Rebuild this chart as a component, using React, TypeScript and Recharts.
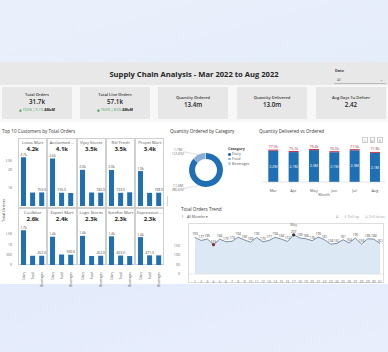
import React from 'react';
import {
    BarChart,
    Bar,
    XAxis,
    YAxis,
    PieChart,
    Pie,
    Cell,
    AreaChart,
    Area,
    LabelList
} from 'recharts';

const FONT = '"Open Sans", "Noto Sans", "DejaVu Sans", sans-serif';
const BLUE = '#1f6fb4';

// KPI cards
const kpiTitles = ['Total Orders', 'Total Line Orders', 'Quantity Ordered', 'Quantity Delivered', 'Avg Days To Deliver'];
const kpiValues = ['31.7k', '57.1k', '13.4m', '13.0m', '2.42'];
const kpiMoM = ['19.0% | 5.1%', '19.0% | 8.5%', '', '', ''];

// Top 10 customers (small multiples)
const customers = ['Lotus Mart', 'Acclaimed ...', 'Vijay Stores', 'Rel Fresh', 'Propel Mart', 'Coolblue', 'Expert Mart', 'Logic Stores', 'Surefist Mart', 'Expression ...'];
const customerTotals = ['4.2k', '4.1k', '3.5k', '3.5k', '3.4k', '2.6k', '2.4k', '2.3k', '2.3k', '2.3k'];
const categories = ['Dairy', 'Food', 'Beverages'];
const dairyOrders = [2710, 2640, 2010, 2000, 1940, 1700, 1380, 1420, 1400, 1360];
const foodOrders = [745, 735, 750, 733, 730, 450, 510, 440, 463, 471];
const beverageOrders = [753, 720, 740, 760, 738, 452, 500, 452, 437, 469];
// which small bar carries a data label (1 = Food, 2 = Beverages)
const smallLabelOn = [2, 1, 2, 1, 2, 2, 2, 2, 1, 1];
const row1Ticks = [0, 500, 1000, 1500, 2000, 2500];
const row2Ticks = [0, 500, 1000, 1500];

// Quantity ordered by category (millions)
const qtyCategories = ['Dairy', 'Food', 'Beverages'];
const qtyOrdered = [11.6, 1.69, 0.11];
const qtyColors = ['#1f6fb4', '#8aaed8', '#bcd0ea'];

// Quantity delivered vs ordered
const months = ['Mar', 'Apr', 'May', 'Jun', 'Jul', 'Aug'];
const deliveredM = [2.23, 2.13, 2.27, 2.12, 2.26, 2.07];
const shortfallK = [77.0, 75.1, 79.4, 76.3, 77.5, 71.8];

// Total orders trend
const days = ['1', '2', '3', '4', '5', '6', '7', '8', '9', '10', '11', '12', '13', '14', '15', '16', '17', '18', '19', '20', '21', '22', '23', '24', '25', '26', '27', '28', '29', '30', '31'];
const dailyOrders = [193, 177, 185, 155, 184, 170, 173, 194, 180, 168, 193, 170, 177, 194, 184, 172, 207, 190, 186, 176, 195, 181, 158, 161, 181, 164, 190, 158, 186, 184, 161];
const trendTicks = [0, 50, 100, 150];

const fmtSmall = (v: number) => (v >= 1000 ? (v / 1000).toFixed(1) + 'k' : v.toFixed(1));
const fmtTick = (v: number) => (v === 0 ? '0' : v < 1000 ? String(v) : v / 1000 + 'K');

const txt = (x: number, y: number, size: number, extra?: React.CSSProperties): React.CSSProperties => ({
    position: 'absolute',
    left: x,
    top: y - size * 0.6,
    fontSize: size,
    lineHeight: 1.2,
    whiteSpace: 'nowrap',
    ...extra
});

const PANEL_W = 29.3;
const PANEL_X0 = 18;

const CustomerPanel = ({ idx }: { idx: number }) => {
    const row = idx < 5 ? 0 : 1;
    const col = idx % 5;
    const x0 = PANEL_X0 + col * PANEL_W;
    const top = row === 0 ? 138 : 208;
    const h = row === 0 ? 70 : 57;
    const values = [dairyOrders[idx], foodOrders[idx], beverageOrders[idx]];
    const data = categories.map((c, k) => ({ category: c, orders: values[k] }));
    const yW = col === 0 ? 12 : 0;

    const renderLabel = (p: any) => {
        const { x, y, width, value, index } = p;
        if (index !== 0 && index !== smallLabelOn[idx]) return null;
        return (
            <text x={x + width / 2} y={y - 1.5} textAnchor="middle" fontSize={3.4} fill="#444">
                {fmtSmall(value)}
            </text>
        );
    };

    const renderXTick = (p: any) => {
        const { x, y, payload } = p;
        return (
            <text x={x} y={y} transform={`rotate(-90, ${x}, ${y})`} textAnchor="end" dominantBaseline="central" fontSize={3.1} fill="#555">
                {payload.value}
            </text>
        );
    };

    return (
        <>
            <div style={{ position: 'absolute', left: x0, top, width: PANEL_W, height: h, border: '0.5px solid #cfcfcf', boxSizing: 'border-box' }} />
            <div style={txt(x0 + PANEL_W / 2, top + 4.5, 4.2, { transform: 'translateX(-50%)', color: '#555' })}>{customers[idx]}</div>
            <div style={txt(x0 + PANEL_W / 2, top + 11.5, 6, { transform: 'translateX(-50%)', color: '#222', fontWeight: 700 })}>{customerTotals[idx]}</div>
            <div style={{ position: 'absolute', left: x0 - yW, top: row === 0 ? 146 : 218 }}>
                <BarChart
                    width={PANEL_W + yW}
                    height={row === 0 ? 60 : 70}
                    data={data}
                    margin={{ top: 6, right: 1, left: 1, bottom: 0 }}
                    barCategoryGap="22%"
                >
                    {row === 0 ? (
                        <XAxis dataKey="category" hide />
                    ) : (
                        <XAxis dataKey="category" height={23} axisLine={false} tickLine={false} interval={0} tick={renderXTick} tickMargin={1} />
                    )}
                    <YAxis
                        hide={col !== 0}
                        width={yW}
                        domain={row === 0 ? [0, 3000] : [0, 2000]}
                        ticks={row === 0 ? row1Ticks : row2Ticks}
                        tickFormatter={fmtTick}
                        axisLine={false}
                        tickLine={false}
                        tick={{ fontSize: 3.4, fill: '#666' }}
                        tickMargin={1}
                    />
                    <Bar dataKey="orders" fill={BLUE} isAnimationActive={false}>
                        <LabelList dataKey="orders" content={renderLabel} />
                    </Bar>
                </BarChart>
            </div>
        </>
    );
};

const RADIAN = Math.PI / 180;

const renderPieLabel = (p: any) => {
    const { cx, cy, midAngle, outerRadius, index, value, percent } = p;
    if (index > 1) return null;
    const sin = Math.sin(-midAngle * RADIAN);
    const cos = Math.cos(-midAngle * RADIAN);
    const ex = cx - outerRadius * Math.abs(cos);
    const ey = cy + outerRadius * sin;
    const lx = cx - outerRadius - 7;
    const ly = cy + (outerRadius + 3) * sin;
    return (
        <g>
            <polyline points={`${ex},${ey} ${lx + 3},${ly} ${lx + 1},${ly}`} fill="none" stroke="#aaa" strokeWidth={0.4} />
            <text x={lx - 4} y={ly - 1.2} textAnchor="middle" fontSize={3.6} fill="#666">{value.toFixed(1) + 'M'}</text>
            <text x={lx - 4} y={ly + 3} textAnchor="middle" fontSize={3.6} fill="#666">{`(${(percent * 100).toFixed(1)}%)`}</text>
        </g>
    );
};

export default function App() {
    const pieData = qtyCategories.map((c, i) => ({ name: c, value: qtyOrdered[i] }));
    const dvoData = months.map((m, i) => ({ month: m, delivered: deliveredM[i], shortfall: shortfallK[i] / 1000, shortfallK: shortfallK[i] }));
    const trendData = days.map((d, i) => ({ day: d, orders: dailyOrders[i] }));
    const maxV = Math.max(...dailyOrders);
    const minV = Math.min(...dailyOrders);

    const renderTrendDot = (p: any) => {
        const { cx, cy, payload, index } = p;
        if (payload.orders === maxV) {
            return (
                <g key={`d${index}`}>
                    <circle cx={cx} cy={cy} r={1.6} fill="#333" />
                    <text x={cx} y={cy - 9} textAnchor="middle" fontSize={3.6} fill="#666">May</text>
                </g>
            );
        }
        if (payload.orders === minV) {
            return <circle key={`d${index}`} cx={cx} cy={cy} r={1.6} fill="#7b2d3d" />;
        }
        return <g key={`d${index}`} />;
    };

    return (
        <div style={{ position: 'fixed', left: 0, top: 0, width: 388, height: 352, overflow: 'hidden', fontFamily: FONT, color: '#333', background: 'linear-gradient(165deg, #eaf0fb 0%, #e3eafa 55%, #e8eefc 100%)' }}>
            {/* dashboard canvas */}
            <div style={{ position: 'absolute', left: 0, top: 62, width: 388, height: 222, background: '#ffffff' }} />
            <div style={{ position: 'absolute', left: 0, top: 62, width: 388, height: 23, background: '#e8e8e8' }} />
            <div style={{ position: 'absolute', left: 0, top: 85, width: 388, height: 37, background: '#f7f7f7' }} />

            <div style={txt(194, 74.5, 7.6, { transform: 'translateX(-50%)', fontWeight: 700, color: '#252525' })}>
                Supply Chain Analysis - Mar 2022 to Aug 2022
            </div>
            <div style={txt(335, 71, 3.8, { fontWeight: 700, color: '#444' })}>Date</div>
            <div style={{ position: 'absolute', left: 334, top: 76, width: 52, height: 7, borderBottom: '0.5px solid #bbb' }} />
            <div style={txt(337, 80, 3.6, { color: '#777' })}>All</div>
            <div style={txt(380, 80, 3.6, { color: '#777' })}>⌄</div>

            {kpiTitles.map((t, i) => {
                const x = [2, 80, 158, 237, 316][i];
                const w = 70;
                const hasMoM = kpiMoM[i] !== '';
                return (
                    <div key={t}>
                        <div style={{ position: 'absolute', left: x, top: 87, width: w, height: 32, background: '#e7e7e7' }} />
                        <div style={txt(x + w / 2, hasMoM ? 95 : 98, 4, { transform: 'translateX(-50%)', color: '#333', fontWeight: 600 })}>{t}</div>
                        <div style={txt(x + w / 2, hasMoM ? 102 : 105, 6.2, { transform: 'translateX(-50%)', color: '#222', fontWeight: 600 })}>{kpiValues[i]}</div>
                        {hasMoM && (
                            <div style={txt(x + w / 2, 110, 3.4, { transform: 'translateX(-50%)', color: '#2e9a4a' })}>
                                ▲ {kpiMoM[i]} <b style={{ color: '#222' }}>ΔMoM</b>
                            </div>
                        )}
                    </div>
                );
            })}

            {/* Top 10 customers */}
            <div style={txt(2, 132, 4.6, { color: '#333' })}>Top 10 Customers by Total Orders</div>
            <div style={txt(4, 210, 4, { color: '#444', transform: 'translate(-50%, 0) rotate(-90deg)', transformOrigin: 'center' })}>Total Orders</div>
            {customers.map((c, i) => (
                <CustomerPanel key={c} idx={i} />
            ))}

            {/* Quantity ordered by category */}
            <div style={txt(170, 132, 4.6, { color: '#333' })}>Quantity Ordered by Category</div>
            <div style={{ position: 'absolute', left: 160, top: 140 }}>
                <PieChart width={70} height={58}>
                    <Pie
                        data={pieData}
                        dataKey="value"
                        nameKey="name"
                        cx={41}
                        cy={25}
                        innerRadius={11}
                        outerRadius={17}
                        startAngle={90}
                        endAngle={-270}
                        stroke="none"
                        label={renderPieLabel}
                        labelLine={false}
                        isAnimationActive={false}
                    >
                        {pieData.map((d, i) => (
                            <Cell key={d.name} fill={qtyColors[i]} />
                        ))}
                    </Pie>
                </PieChart>
            </div>
            <div style={txt(228, 149, 3.8, { fontWeight: 700, color: '#444' })}>Category</div>
            {qtyCategories.map((c, i) => (
                <div key={c} style={txt(228, 154.5 + i * 4.6, 3.6, { color: '#555' })}>
                    <span style={{ display: 'inline-block', width: 2.6, height: 2.6, borderRadius: '50%', background: qtyColors[i], marginRight: 1.5, verticalAlign: 'middle' }} />
                    {c}
                </div>
            ))}
            <div style={{ position: 'absolute', left: 167, top: 196, width: 0.5, height: 10, background: '#d6d6d6' }} />

            {/* Quantity delivered vs ordered */}
            <div style={txt(259, 132, 4.6, { color: '#333' })}>Quantity Delivered vs Ordered</div>
            {['⇩', '⇊', '⇅'].map((g, i) => (
                <div key={g} style={{ position: 'absolute', left: 362 + i * 7.5, top: 137, width: 5.5, height: 5.5, border: '0.4px solid #ccc', fontSize: 3.5, lineHeight: '5.5px', textAlign: 'center', color: '#888', boxSizing: 'border-box' }}>{g}</div>
            ))}
            <div style={{ position: 'absolute', left: 258, top: 143 }}>
                <BarChart width={130} height={54} data={dvoData} margin={{ top: 6, right: 3, left: 5, bottom: 0 }} barCategoryGap="26%">
                    <XAxis
                        dataKey="month"
                        height={15}
                        tickLine={false}
                        axisLine={{ stroke: '#c8c8c8', strokeWidth: 0.5 }}
                        tick={{ fontSize: 3.8, fill: '#555' }}
                        tickMargin={1}
                        label={{ value: 'Month', position: 'insideBottom', offset: 1, fontSize: 3.8, fill: '#555' }}
                    />
                    <YAxis hide domain={[0, 'dataMax']} />
                    <Bar dataKey="delivered" stackId="q" fill={BLUE} isAnimationActive={false}>
                        <LabelList dataKey="delivered" position="center" fontSize={3.6} fill="#ffffff" formatter={(v: any) => Number(v).toFixed(1) + 'M'} />
                    </Bar>
                    <Bar dataKey="shortfall" stackId="q" fill="#c8344c" isAnimationActive={false}>
                        <LabelList dataKey="shortfallK" position="top" offset={1.5} fontSize={3.6} fill="#a52a3e" formatter={(v: any) => Number(v).toFixed(1) + 'k'} />
                    </Bar>
                </BarChart>
            </div>

            {/* Total orders trend */}
            <div style={txt(181, 210, 4.6, { color: '#333' })}>Total Orders Trend</div>
            <div style={txt(181, 217, 3.6, { color: '#666' })}>↑</div>
            <div style={txt(187, 217, 3.6, { color: '#444' })}>All Months ▾</div>
            <div style={txt(336, 217, 3.4, { color: '#aaa' })}>A</div>
            <div style={txt(344, 217, 3.4, { color: '#999' })}>↑ Drill up</div>
            <div style={txt(365, 217, 3.4, { color: '#aaa' })}>⇊ Drill down</div>
            <div style={{ position: 'absolute', left: 188, top: 223, width: 196, height: 60, border: '0.5px solid #dedede', boxSizing: 'border-box' }} />
            <div style={{ position: 'absolute', left: 172, top: 222 }}>
                <AreaChart width={212} height={61} data={trendData} margin={{ top: 2, right: 0, left: 0, bottom: 0 }}>
                    <XAxis
                        dataKey="day"
                        height={9}
                        interval={0}
                        padding={{ left: 7, right: 4 }}
                        tickLine={false}
                        axisLine={{ stroke: '#d0d0d0', strokeWidth: 0.5 }}
                        tick={{ fontSize: 3.3, fill: '#666' }}
                        tickMargin={1}
                    />
                    <YAxis
                        width={16}
                        domain={[0, 264]}
                        ticks={trendTicks}
                        axisLine={false}
                        tickLine={false}
                        tick={{ fontSize: 3.6, fill: '#666' }}
                        tickMargin={2}
                    />
                    <Area
                        type="linear"
                        dataKey="orders"
                        stroke="#5a7590"
                        strokeWidth={0.8}
                        fill="#dde8f5"
                        fillOpacity={1}
                        dot={renderTrendDot}
                        activeDot={false}
                        isAnimationActive={false}
                    >
                        <LabelList dataKey="orders" position="top" offset={2} fontSize={3.3} fill="#444" />
                    </Area>
                </AreaChart>
            </div>
        </div>
    );
}
